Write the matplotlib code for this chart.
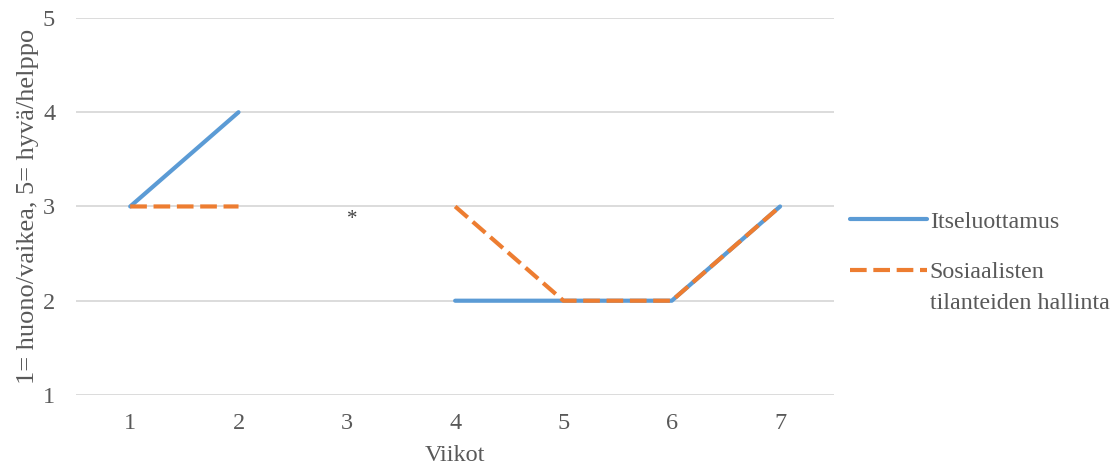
import matplotlib.pyplot as plt
import numpy as np

plt.rcParams['font.family'] = ['Liberation Serif', 'DejaVu Serif']

weeks = ['1', '2', '3', '4', '5', '6', '7']
itseluottamus = [3, 4, np.nan, 2, 2, 2, 3]
sosiaaliset = [3, 3, np.nan, 3, 2, 2, 3]
missing_week = 3
missing_mark = '*'

blue = '#5B9BD5'
orange = '#ED7D31'
grey = '#595959'

fig = plt.figure(figsize=(11.15, 4.73), dpi=100)
ax = fig.add_axes([0.0682, 0.165, 0.68, 0.797])

x = np.arange(1, len(weeks) + 1)
ax.plot(x, itseluottamus, color=blue, lw=3, solid_capstyle='round',
        label='Itseluottamus')
ax.plot(x, sosiaaliset, color=orange, lw=3, dashes=(4, 1.6),
        label='Sosiaalisten')
ax.text(missing_week + 0.05, 2.86, missing_mark, ha='center', va='center',
        fontsize=15, color='#404040')

ax.set_xlim(0.5, 7.5)
ax.set_ylim(1, 5)
ax.set_xticks(x)
ax.set_xticklabels(weeks)
ax.set_yticks([1, 2, 3, 4, 5])
ax.yaxis.grid(True, color='#D9D9D9', lw=1.3)
ax.set_axisbelow(True)
for s in ax.spines.values():
    s.set_visible(False)
ax.tick_params(length=0, labelsize=17.5, colors=grey)
ax.tick_params(axis='x', pad=13)
ax.tick_params(axis='y', pad=15)
ax.set_xlabel('Viikot', fontsize=17.5, color=grey, labelpad=8)
ax.set_ylabel('1= huono/vaikea, 5= hyvä/helppo', fontsize=19, color=grey,
              labelpad=3)

leg = fig.legend(loc='upper left', bbox_to_anchor=(0.743, 0.6),
                 frameon=False, fontsize=17.3, labelcolor=grey,
                 handlelength=3.2, labelspacing=1.2, handletextpad=0.12)

# second line of the long legend label, hung under its first line
fig.canvas.draw()
bb = leg.get_texts()[1].get_window_extent().transformed(fig.transFigure.inverted())
fig.text(bb.x0, bb.y0 - 0.064, 'tilanteiden hallinta', fontsize=17.3,
         color=grey, ha='left', va='bottom')

fig.savefig('out.png', dpi=100)
